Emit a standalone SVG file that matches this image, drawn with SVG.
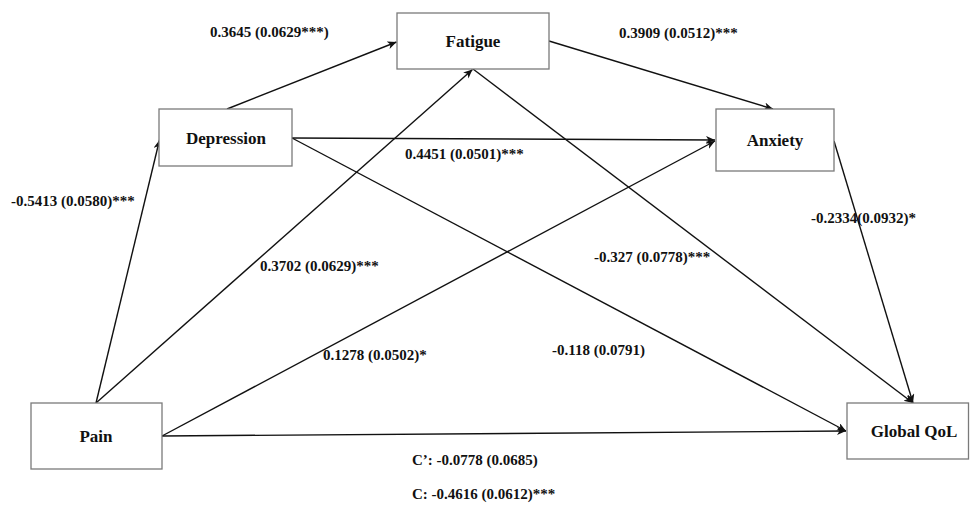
<svg xmlns="http://www.w3.org/2000/svg" width="970" height="508" viewBox="0 0 970 508">
<style>
.box{fill:#fff;stroke:#7a7a7a;stroke-width:1.3}
.node{font-family:"Liberation Serif","Times New Roman",serif;font-weight:bold;font-size:17px;fill:#111;text-anchor:middle}
.lbl{font-family:"Liberation Serif","Times New Roman",serif;font-weight:bold;font-size:15px;fill:#111}
.edge{stroke:#111;stroke-width:1.4;fill:none;marker-end:url(#ah)}
</style>
<defs>
<marker id="ah" markerUnits="userSpaceOnUse" markerWidth="12" markerHeight="10" refX="9" refY="4" orient="auto">
<path d="M0,0 L9,4 L0,8 L2.5,4 z" fill="#111"/>
</marker>
</defs>
<rect width="970" height="508" fill="#fff"/>
<g id="connectors">
<line class="edge" x1="96" y1="403" x2="159.5" y2="140"/>
<line class="edge" x1="96" y1="403" x2="472.5" y2="69.5"/>
<line class="edge" x1="162" y1="436" x2="715" y2="141"/>
<line class="edge" x1="162" y1="436" x2="846" y2="431"/>
<line class="edge" x1="227" y1="109" x2="396.5" y2="42"/>
<line class="edge" x1="292" y1="138" x2="715" y2="140"/>
<line class="edge" x1="292" y1="138" x2="846" y2="431"/>
<line class="edge" x1="549" y1="41" x2="773" y2="109"/>
<line class="edge" x1="473" y1="69" x2="913" y2="403"/>
<line class="edge" x1="834" y1="141" x2="913" y2="403"/>
</g>
<g id="node-fatigue">
<rect class="box" x="397" y="13" width="152" height="56"/>
<text class="node" x="473" y="47">Fatigue</text>
</g>
<g id="node-depression">
<rect class="box" x="159" y="109" width="133" height="57"/>
<text class="node" x="226" y="144">Depression</text>
</g>
<g id="node-anxiety">
<rect class="box" x="716" y="109" width="118" height="62"/>
<text class="node" x="775" y="146">Anxiety</text>
</g>
<g id="node-pain">
<rect class="box" x="31" y="403" width="131" height="66"/>
<text class="node" x="96" y="442">Pain</text>
</g>
<g id="node-globalqol">
<rect class="box" x="847" y="403" width="121.5" height="56"/>
<text class="node" x="914" y="437">Global QoL</text>
</g>
<g id="labels">
<text class="lbl" x="210" y="37">0.3645 (0.0629***)</text>
<text class="lbl" x="619" y="38">0.3909 (0.0512)***</text>
<text class="lbl" x="405" y="159">0.4451 (0.0501)***</text>
<text class="lbl" x="11" y="206">-0.5413 (0.0580)***</text>
<text class="lbl" x="811" y="223">-0.2334(0.0932)*</text>
<text class="lbl" x="594" y="262">-0.327 (0.0778)***</text>
<text class="lbl" x="260" y="271">0.3702 (0.0629)***</text>
<text class="lbl" x="323" y="360">0.1278 (0.0502)*</text>
<text class="lbl" x="552" y="355">-0.118 (0.0791)</text>
<text class="lbl" x="412" y="465">C’: -0.0778 (0.0685)</text>
<text class="lbl" x="412" y="499">C: -0.4616 (0.0612)***</text>
</g>
</svg>
